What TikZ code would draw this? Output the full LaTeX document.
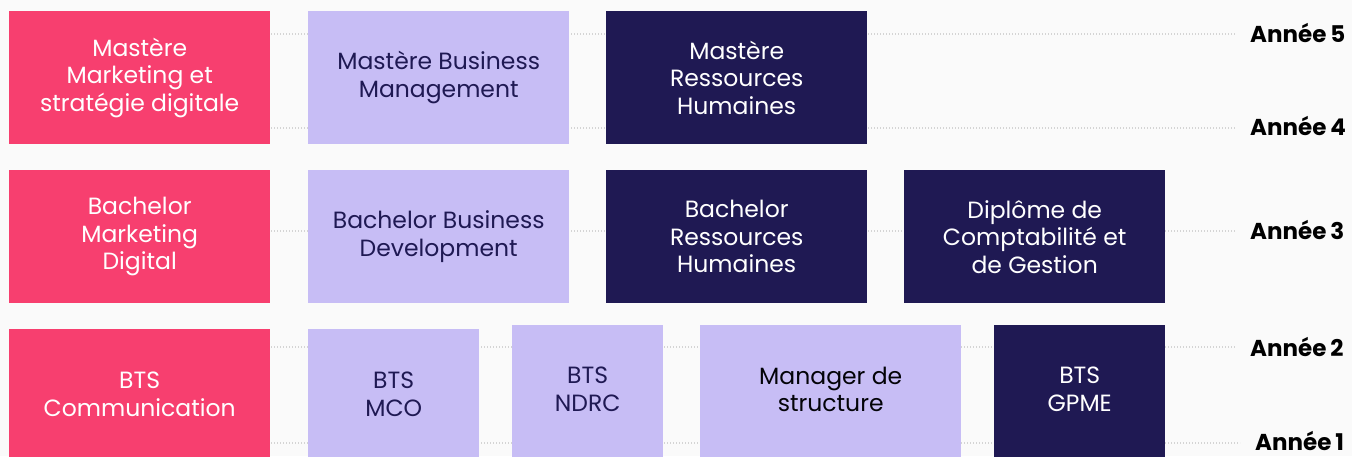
\documentclass[tikz,border=0pt]{standalone}
\usepackage{fontspec}
\setmainfont{Poppins}
\definecolor{bgc}{HTML}{FAFAFA}
\definecolor{pinkc}{HTML}{F73F6F}
\definecolor{lightc}{HTML}{C7BDF5}
\definecolor{navyc}{HTML}{1F1953}
\definecolor{guidec}{HTML}{D4D4D4}
\begin{document}
\begin{tikzpicture}[x=1pt,y=-1pt,
  box/.style={rectangle, inner sep=0pt, align=center, anchor=north west,
    font=\fontsize{23.5}{27.5}\selectfont},
  pinkbox/.style={box, fill=pinkc, text=white},
  lightbox/.style={box, fill=lightc, text=navyc},
  darkbox/.style={box, fill=navyc, text=white},
  yearlab/.style={anchor=west, inner sep=0pt, text=black,
    font=\fontsize{23}{26}\selectfont\bfseries},
  guide/.style={draw=guidec, line width=1.4pt, dash pattern=on 1.4pt off 1.6pt, shorten >=15pt}]
\useasboundingbox[fill=bgc] (0,0) rectangle (1352,456);
\clip (0,0) rectangle (1352,456);
% year labels
\node[yearlab] (y5) at (1250,33) {Année\kern-1pt\ 5};
\node[yearlab] (y4) at (1250,126) {Année\kern-1pt\ 4};
\node[yearlab] (y3) at (1250,230) {Année\kern-1pt\ 3};
\node[yearlab] (y2) at (1250,347) {Année\kern-1pt\ 2};
\node[yearlab] (y1) at (1255,441) {Année\kern-1pt\ 1};
% guide lines
\coordinate (g5) at (10,34);
\coordinate (g4) at (10,128);
\coordinate (g3) at (10,231);
\coordinate (g2) at (10,347);
\coordinate (g1) at (10,443);
\draw[guide] (g5) -- (g5 -| y5.west);
\draw[guide] (g4) -- (g4 -| y4.west);
\draw[guide] (g3) -- (g3 -| y3.west);
\draw[guide] (g2) -- (g2 -| y2.west);
\draw[guide] (g1) -- (g1 -| y1.west);
% row 1
\node[pinkbox, minimum width=261pt, minimum height=133pt] (mmsd) at (9,11) {Mastère\\Marketing et\\stratégie digitale};
\node[lightbox, minimum width=261pt, minimum height=133pt] (mbm) at (308,11) {Mastère Business\\Management};
\node[darkbox, minimum width=261pt, minimum height=133pt] (mrh) at (606,11) {Mastère\\Ressources\\Humaines};
% row 2
\node[pinkbox, minimum width=261pt, minimum height=133pt] (bmd) at (9,170) {Bachelor\\Marketing\\Digital};
\node[lightbox, minimum width=261pt, minimum height=133pt] (bbd) at (308,170) {Bachelor Business\\Development};
\node[darkbox, minimum width=261pt, minimum height=133pt] (brh) at (606,170) {Bachelor\\Ressources\\Humaines};
\node[darkbox, minimum width=261pt, minimum height=133pt] (dcg) at (904,170) {Diplôme de\\Comptabilité et\\de Gestion};
% row 3
\node[pinkbox, minimum width=261pt, minimum height=130pt] (btsc) at (9,329) {BTS\\Communication};
\node[lightbox, minimum width=171pt, minimum height=130pt] (mco) at (308,329) {BTS\\MCO};
\node[lightbox, minimum width=151pt, minimum height=128pt] (ndrc) at (512,325) {BTS\\NDRC};
\fill[lightc] (ndrc.south west) rectangle ++(151,10);
\node[lightbox, minimum width=261pt, minimum height=128pt, text=black!90!navyc] (mds) at (700,325) {Manager de\\structure};
\fill[lightc] (mds.south west) rectangle ++(261,10);
\node[darkbox, minimum width=171pt, minimum height=128pt] (gpme) at (994,325) {BTS\\GPME};
\fill[navyc] (gpme.south west) rectangle ++(171,10);
\end{tikzpicture}
\end{document}
